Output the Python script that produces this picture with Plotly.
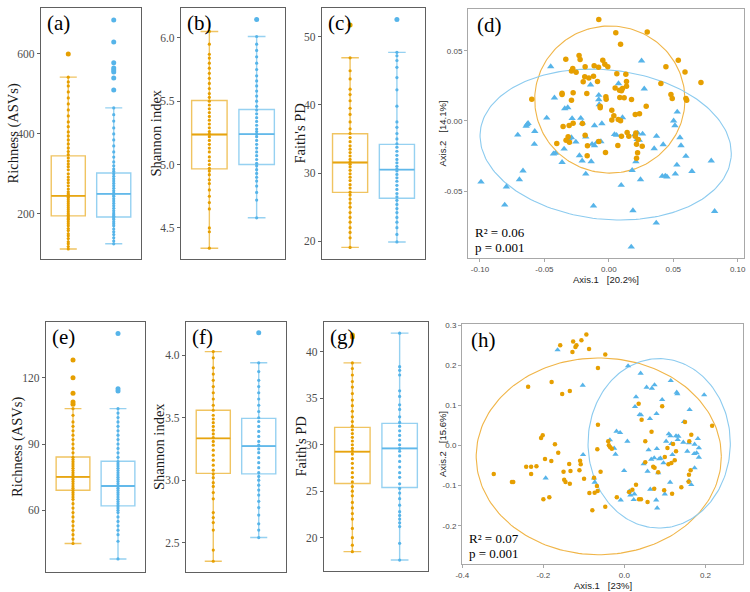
import numpy as np
import plotly.graph_objects as go

ORANGE = "#E69F00"
BLUE = "#56B4E9"
OR_LINE = "rgba(230,159,0,0.62)"
BL_LINE = "rgba(86,180,233,0.62)"

# ---------------- box-plot data (raw points + summary stats) -------------
a_or = [112,118,125,130,138,145,150,158,163,170,175,180,185,188,192,196,200,205,210,215,220,225,230,235,240,243,247,250,255,262,270,278,285,292,300,310,318,325,332,340,348,356,365,375,385,395,405,418,430,445,460,475,490,505,520,530,542]
a_or_out = [600]
a_bl = [125,132,140,148,155,162,170,175,180,186,190,194,198,202,208,214,220,226,232,238,244,248,252,258,264,270,276,282,288,294,300,306,312,320,330,342,355,370,385,400,415,432,448,465]
a_bl_out = [510,540,555,560,565,578,630,685]
a_or_stats = [112, 195, 245, 345, 542]
a_bl_stats = [125, 192, 250, 302, 465]
a_ticks = [200, 400, 600]
a_ticklabels = ["200", "400", "600"]

b_or = [4.34,4.47,4.50,4.65,4.70,4.75,4.80,4.85,4.88,4.92,4.95,4.97,5.00,5.03,5.06,5.10,5.13,5.16,5.19,5.22,5.24,5.26,5.29,5.32,5.35,5.38,5.41,5.44,5.47,5.50,5.53,5.56,5.60,5.64,5.68,5.72,5.76,5.80,5.84,5.87,5.95,6.05]
b_or_out = []
b_bl = [4.58,4.72,4.78,4.83,4.87,4.90,4.93,4.96,4.99,5.01,5.04,5.07,5.10,5.13,5.16,5.19,5.22,5.24,5.26,5.28,5.31,5.34,5.37,5.40,5.43,5.46,5.50,5.54,5.58,5.62,5.66,5.70,5.75,5.80,5.85,5.90,5.95,6.01]
b_bl_out = [6.145]
b_or_stats = [4.34, 4.966, 5.237, 5.505, 6.05]
b_bl_stats = [4.58, 5.0, 5.24, 5.434, 6.01]
b_ticks = [4.5, 5.0, 5.5, 6.0]
b_ticklabels = ["4.5", "5.0", "5.5", "6.0"]

c_or = [19.1,20.5,21.3,22.0,22.8,23.5,24.2,25.0,25.6,26.2,26.8,27.2,27.8,28.3,28.9,29.4,29.9,30.4,30.9,31.3,31.6,32.0,32.5,33.0,33.5,34.0,34.6,35.2,35.8,36.5,37.5,38.6,39.5,40.6,41.5,42.3,43.8,45.0,46.9]
c_or_out = [51.7]
c_bl = [19.9,21.0,22.0,22.8,23.5,24.2,24.8,25.4,26.0,26.5,27.0,27.6,28.2,28.8,29.3,29.8,30.3,30.6,31.0,31.5,32.0,32.6,33.2,33.8,34.3,35.0,35.8,36.7,37.5,39.8,42.2,44.0,45.5,46.5,47.2,47.7]
c_bl_out = [52.5]
c_or_stats = [19.1, 27.17, 31.55, 35.77, 46.9]
c_bl_stats = [19.9, 26.3, 30.5, 34.2, 47.7]
c_ticks = [20, 30, 40, 50]
c_ticklabels = ["20", "30", "40", "50"]

e_or = [45,47,49,51,53,55,57,59,61,63,65,66,67,68,69,70,71,72,73,74,75,76,77,78,79,80,81,82,83,84,86,88,90,92,94,96,98,100,103,106]
e_or_out = [108,109,113,120,128]
e_bl = [38,46,49,51,53,55,57,59,60,61,62,63,64,65,66,67,68,69,70,71,72,73,74,75,76,77,78,79,80,81,82,84,86,88,90,92,94,96,98,100,102,104,106]
e_bl_out = [114,115,140]
e_or_stats = [45, 69.05, 75.1, 84.1, 106]
e_bl_stats = [38, 62, 71, 82.2, 106]
e_ticks = [60, 90, 120]
e_ticklabels = ["60", "90", "120"]

f_or = [2.35,2.44,2.60,2.66,2.70,2.74,2.85,2.90,2.95,2.98,3.02,3.05,3.08,3.12,3.16,3.20,3.24,3.28,3.31,3.34,3.37,3.40,3.43,3.46,3.49,3.52,3.56,3.60,3.65,3.70,3.75,3.80,3.85,3.90,3.98,4.03]
f_or_out = []
f_bl = [2.54,2.60,2.65,2.72,2.78,2.83,2.88,2.92,2.96,3.00,3.03,3.06,3.10,3.14,3.18,3.22,3.25,3.28,3.31,3.35,3.39,3.43,3.47,3.50,3.55,3.60,3.65,3.70,3.75,3.80,3.87,3.94]
f_bl_out = [4.18]
f_or_stats = [2.35, 3.054, 3.335, 3.56, 4.03]
f_bl_stats = [2.54, 3.05, 3.273, 3.495, 3.94]
f_ticks = [2.5, 3.0, 3.5, 4.0]
f_ticklabels = ["2.5", "3.0", "3.5", "4.0"]

g_or = [18.5,19.2,20.0,21.0,22.0,22.6,23.2,23.8,24.5,25.0,25.5,26.0,26.5,27.0,27.5,28.0,28.5,29.0,29.3,29.6,30.0,30.4,30.8,31.2,31.6,32.0,32.5,33.0,33.6,34.2,34.8,35.5,36.2,36.8,37.5,38.2,38.8]
g_or_out = [41.6, 41.8]
g_bl = [17.6,19.4,21.2,21.6,22.0,22.4,22.8,23.5,24.2,24.8,25.3,25.8,26.5,27.0,27.6,28.2,28.8,29.3,29.6,30.0,30.5,31.0,31.5,32.0,32.4,33.0,33.8,34.3,35.2,35.8,37.5,38.0,38.4,42.0]
g_bl_out = []
g_or_stats = [18.5, 25.83, 29.25, 31.87, 38.8]
g_bl_stats = [17.6, 25.4, 29.6, 32.3, 42.0]
g_ticks = [20, 25, 30, 35, 40]
g_ticklabels = ["20", "25", "30", "35", "40"]

# ---------------- PCoA data (d) ----------------
d_or_x = [-0.0078,0.0054,0.0298,0.0091,0.0539,0.0443,0.0591,0.0715,0.0404,0.0482,0.0492,0.0598,0.0604,0.0290,-0.0231,-0.0223,-0.0334,-0.0280,-0.0290,-0.0184,-0.0114,-0.0080,-0.0047,-0.0031,-0.0008,-0.0254,-0.0187,-0.0155,-0.0199,-0.0088,-0.0119,0.0062,0.0049,0.0083,0.0106,0.0098,0.0137,0.0137,0.0132,0.0085,0.0119,0.0176,-0.0598,-0.0363,-0.0363,-0.0277,-0.0290,-0.0171,-0.0023,-0.0067,-0.0067,0.0023,0.0039,0.0023,0.0073,0.0091,0.0205,0.0238,-0.0355,-0.0308,-0.0277,-0.0205,-0.0316,-0.0306,-0.0184,-0.0166,-0.0404,-0.0332,-0.0168,-0.0026,-0.0078,0.0070,0.0098,0.0142,0.0155,0.0205,0.0210,0.0215,0.0228,0.0259,0.0223,0.0215,-0.0021]
d_or_y = [0.0722,0.0627,0.0634,0.0546,0.0432,0.0385,0.0349,0.0273,0.0266,0.0188,0.0159,0.0159,0.0147,0.0105,0.0466,0.0437,0.0439,0.0373,0.0356,0.0385,0.0392,0.0382,0.0432,0.0404,0.0385,0.0347,0.0314,0.0306,0.0278,0.0280,0.0318,0.0335,0.0235,0.0219,0.0230,0.0214,0.0247,0.0280,0.0333,0.0166,0.0164,0.0152,0.0154,0.0197,0.0188,0.0200,0.0147,0.0195,0.0171,0.0105,0.0093,0.0076,0.0036,0.0007,0.0010,0.0000,0.0045,0.0050,-0.0040,-0.0033,-0.0017,-0.0019,-0.0114,-0.0152,-0.0102,-0.0178,-0.0162,-0.0138,-0.0249,-0.0226,-0.0147,-0.0176,-0.0109,-0.0083,-0.0109,-0.0109,-0.0086,-0.0166,-0.0133,-0.0181,-0.0228,-0.0266,0.0154]
d_bl_x = [-0.0451,0.0254,-0.0422,-0.0342,-0.0319,-0.0142,0.0075,0.0275,-0.0078,-0.0078,-0.0075,0.0106,-0.0482,-0.0635,-0.0627,-0.0642,-0.0575,-0.0707,-0.0578,-0.0285,-0.0218,-0.0205,-0.0111,-0.0054,0.0044,0.0060,0.0223,0.0262,0.0220,0.0236,0.0370,0.0422,0.0352,0.0503,0.0513,0.0531,0.0552,0.0560,0.0598,0.0528,0.0516,0.0645,0.0795,0.0438,0.0415,0.0451,0.0210,0.0181,0.0096,0.0246,-0.0111,-0.0091,-0.0062,-0.0130,-0.0179,-0.0308,-0.0347,-0.0228,-0.0207,-0.0137,-0.0179,-0.0363,-0.0415,-0.0430,-0.0666,-0.0694,-0.0795,-0.0992,-0.0808,-0.0119,0.0187,0.0368,0.0174,0.0821,-0.0256,0.0202,-0.0290]
d_bl_y = [0.0387,0.0428,0.0164,0.0088,0.0095,0.0257,0.0266,0.0228,0.0183,0.0152,0.0116,0.0024,0.0021,-0.0026,-0.0017,-0.0038,-0.0074,-0.0100,-0.0166,0.0017,0.0019,-0.0014,-0.0033,-0.0019,-0.0097,-0.0102,-0.0086,-0.0093,-0.0131,-0.0138,-0.0109,-0.0169,-0.0197,0.0000,-0.0033,0.0064,-0.0119,-0.0176,-0.0252,-0.0314,-0.0378,-0.0359,-0.0285,-0.0392,-0.0394,-0.0399,-0.0290,-0.0352,-0.0458,-0.0418,-0.0176,-0.0152,-0.0147,-0.0166,-0.0114,-0.0126,-0.0200,-0.0247,-0.0285,-0.0290,-0.0378,-0.0295,-0.0230,-0.0235,-0.0356,-0.0418,-0.0470,-0.0435,-0.0599,-0.0606,-0.0639,-0.0727,-0.0898,-0.0644,-0.0150,-0.0097,-0.0119]
d_xticks = [-0.10, -0.05, 0.0, 0.05, 0.10]
d_xticklabels = ["-0.10", "-0.05", "0.00", "0.05", "0.10"]
d_yticks = [-0.05, 0.0, 0.05]
d_yticklabels = ["-0.05", "0.00", "0.05"]

# ---------------- PCoA data (h) ----------------
h_or_x = [-0.0939,-0.1061,-0.1265,-0.1184,-0.1208,-0.1584,-0.1282,-0.0873,-0.0473,-0.0653,-0.1796,-0.2376,-0.1535,-0.1347,-0.0653,-0.2016,-0.2057,-0.1714,-0.1633,-0.1804,-0.1959,-0.2171,-0.2424,-0.2302,-0.2302,-0.3224,-0.2776,-0.2743,-0.1502,-0.1363,-0.1331,-0.1486,-0.1453,-0.1094,-0.1078,-0.1110,-0.0996,-0.0751,-0.0678,-0.0661,-0.0735,-0.0865,-0.0792,-0.0473,-0.0188,-0.0588,-0.0669,-0.0400,-0.0384,-0.0351,-0.0310,0.0114,0.0196,0.0286,0.0359,0.0571,0.0735,0.0514,0.0710,0.0743,0.0833,0.0669,0.0514,0.0351,0.0424,0.0931,0.1061,0.0996,0.1200,0.1241,0.1494,0.1600,0.1649,0.1633,0.1592,0.1584,0.1404,0.1086,0.1159,0.0980,0.0408,-0.2000,-0.1853,-0.1347,0.2163,0.1176,0.1273]
h_or_y = [0.2775,0.2633,0.2600,0.2508,0.2467,0.2508,0.2342,0.2417,0.2275,0.1942,0.1592,0.1475,0.1292,0.1367,0.0525,0.0258,0.0192,0.0033,-0.0175,-0.0383,-0.0333,-0.0517,-0.0525,-0.0525,-0.0708,-0.0708,-0.0908,-0.0908,-0.0650,-0.0458,-0.0633,-0.0850,-0.0908,-0.0375,-0.0467,-0.0617,-0.0825,-0.0800,-0.1008,-0.1133,-0.1175,-0.1183,-0.1617,-0.1525,-0.1292,-0.0650,-0.0092,0.0108,0.0008,-0.0042,-0.0075,-0.1158,-0.1100,-0.0975,-0.1342,-0.1408,-0.1075,-0.0417,-0.0525,-0.0550,-0.0667,0.0350,0.0108,0.1050,0.0650,0.0983,-0.0058,-0.0283,0.0042,-0.0367,0.0592,0.0108,0.0275,-0.0617,-0.0725,-0.0900,-0.1042,-0.0467,-0.0433,-0.1117,-0.1342,-0.1342,-0.1292,-0.0950,0.0500,-0.1200,-0.0142]
h_bl_x = [-0.1649,-0.1029,0.0090,0.0400,0.0547,0.0678,0.0743,0.0931,0.1290,0.1306,0.1143,0.1608,0.1967,0.1469,0.0286,0.0261,0.0376,0.0408,0.0792,0.0629,-0.0196,-0.0106,0.0073,-0.0359,-0.0253,-0.0220,-0.0008,0.0122,0.0245,0.0147,0.0229,-0.0090,0.0784,0.0808,0.0637,0.0473,0.0596,0.0661,0.0857,0.0890,0.0963,0.1029,0.1094,0.1159,0.1135,0.1273,0.1331,0.1314,0.1453,0.1592,0.1731,0.1837,0.1812,0.1551,0.1722,0.1780,0.1837,0.1731,0.1592,0.1649,0.1127,0.0996,-0.1943,-0.1020,-0.0735,-0.0751,0.0571,0.1184,0.0833,0.0735,0.0800]
h_bl_y = [0.2392,0.1508,0.1992,0.1808,0.1458,0.1433,0.1517,0.1150,0.1333,0.1292,0.1625,0.0900,0.1267,0.0600,0.1217,0.0975,0.0775,0.0767,0.0800,0.0675,0.0358,0.0325,0.0108,0.0142,-0.0067,-0.0217,-0.0625,-0.1142,-0.1208,-0.1233,-0.1350,-0.1358,-0.1358,-0.1558,-0.1092,-0.0458,-0.0108,-0.0342,-0.0333,-0.0317,-0.0433,0.0108,0.0292,0.0050,0.0242,0.0242,0.0233,0.0150,0.0083,0.0067,0.0033,-0.0058,0.0175,-0.0142,-0.0200,-0.0183,-0.0292,-0.0558,-0.0875,-0.0975,-0.0917,-0.1208,-0.0808,-0.0225,-0.0917,-0.0808,-0.0642,-0.0225,-0.0683,-0.0308,-0.0075]
h_xticks = [-0.4, -0.2, 0.0, 0.2]
h_xticklabels = ["-0.4", "-0.2", "0.0", "0.2"]
h_yticks = [-0.2, -0.1, 0.0, 0.1, 0.2, 0.3]
h_yticklabels = ["-0.2", "-0.1", "0.0", "0.1", "0.2", "0.3"]

# 95% ellipse parameters: centre x, centre y, axis-1 vector (x,y), axis-2 vector (x,y)
d_or_ell = [0.00078, 0.0152, 0.0583, 0.0, 0.0, 0.0524]
d_bl_ell = [-0.00246, -0.01686, 0.0973, -0.00953, -0.00617, -0.0529]
h_or_ell = [-0.0633, -0.0267, 0.3024, 0.0, 0.0, 0.2458]
h_bl_ell = [0.0857, 0.0058, 0.1755, 0.0, 0.0, 0.2117]

W, H = 750, 592
BOX_W = 0.75
def dom_x(x0, x1):
    return [x0 / W, x1 / W]
def dom_y(y0, y1):
    return [1 - y1 / H, 1 - y0 / H]

fig = go.Figure()
layout = dict(width=W, height=H, margin=dict(l=0, r=0, t=0, b=0, autoexpand=False),
              paper_bgcolor="white", plot_bgcolor="white", showlegend=False,
              boxmode="overlay", template="none")
annotations = []

SERIF = "Liberation Serif"
SANS = "Liberation Sans"
TICKCOL = "#4D4D4D"
FRAME = "#606060"

box_panels = [
    ("a", (41, 141), (8, 259), [87, 715], "Richness (ASVs)", a_or, a_or_out, a_bl, a_bl_out, a_or_stats, a_bl_stats, 13, a_ticks, a_ticklabels),
    ("b", (181, 285), (8, 259), [4.255, 6.235], "Shannon index", b_or, b_or_out, b_bl, b_bl_out, b_or_stats, b_bl_stats, 155, b_ticks, b_ticklabels),
    ("c", (322, 425), (8, 259), [17.4, 54.2], "Faith's PD", c_or, c_or_out, c_bl, c_bl_out, c_or_stats, c_bl_stats, 299, c_ticks, c_ticklabels),
    ("e", (46, 145), (322, 572), [32.1, 145.2], "Richness (ASVs)", e_or, e_or_out, e_bl, e_bl_out, e_or_stats, e_bl_stats, 17, e_ticks, e_ticklabels),
    ("f", (186, 286), (322, 572), [2.264, 4.267], "Shannon index", f_or, f_or_out, f_bl, f_bl_out, f_or_stats, f_bl_stats, 159, f_ticks, f_ticklabels),
    ("g", (324, 428), (322, 571), [16.42, 43.2], "Faith's PD", g_or, g_or_out, g_bl, g_bl_out, g_or_stats, g_bl_stats, 300, g_ticks, g_ticklabels),
]

idx = 0
for (key, xd, yd, yr, ytitle, por, poro, pbl, pblo, sor, sbl, titx, tv, tt) in box_panels:
    idx += 1
    xa = "x" if idx == 1 else f"x{idx}"
    ya = "y" if idx == 1 else f"y{idx}"
    xname = "xaxis" if idx == 1 else f"xaxis{idx}"
    yname = "yaxis" if idx == 1 else f"yaxis{idx}"
    for pos, st, lcol, col in [(1, sor, OR_LINE, ORANGE), (2, sbl, BL_LINE, BLUE)]:
        fig.add_trace(go.Box(x=[pos], lowerfence=[st[0]], q1=[st[1]], median=[st[2]],
                             q3=[st[3]], upperfence=[st[4]], width=BOX_W,
                             boxpoints=False, fillcolor="rgba(0,0,0,0)",
                             line=dict(color=lcol, width=1.4), xaxis=xa, yaxis=ya,
                             hoverinfo="skip"))
        # median drawn a little stronger, as in the reference
        fig.add_trace(go.Scatter(x=[pos - BOX_W / 2, pos + BOX_W / 2], y=[st[2], st[2]],
                                 mode="lines", line=dict(color=col, width=1.8),
                                 xaxis=xa, yaxis=ya, hoverinfo="skip", opacity=0.85))
    for pos, pts, outs, col in [(1, por, poro, ORANGE), (2, pbl, pblo, BLUE)]:
        fig.add_trace(go.Scatter(x=[pos] * len(pts), y=pts, mode="markers",
                                 marker=dict(color=col, size=3.2, line=dict(width=0)),
                                 xaxis=xa, yaxis=ya))
        if outs:
            fig.add_trace(go.Scatter(x=[pos] * len(outs), y=outs, mode="markers",
                                     marker=dict(color=col, size=5, line=dict(width=0)),
                                     xaxis=xa, yaxis=ya))
    layout[xname] = dict(domain=dom_x(*xd), range=[0.4, 2.6], showticklabels=False,
                         ticks="", showgrid=False, zeroline=False, showline=True,
                         mirror=True, linecolor=FRAME, linewidth=1.4, anchor=ya,
                         automargin=False)
    layout[yname] = dict(domain=dom_y(*yd), range=yr, showgrid=False, zeroline=False,
                         showline=True, mirror=True, linecolor=FRAME, linewidth=1.4,
                         ticks="outside", ticklen=3, tickcolor=FRAME,
                         tickvals=tv, ticktext=tt,
                         tickfont=dict(family=SERIF, size=11.5, color=TICKCOL),
                         anchor=xa, automargin=False)
    annotations.append(dict(text=ytitle, x=titx / W, y=1 - (yd[0] + yd[1]) / 2 / H,
                            xref="paper", yref="paper", showarrow=False, textangle=-90,
                            font=dict(family=SERIF, size=14.5, color="#1a1a1a"),
                            xanchor="center", yanchor="middle"))
    annotations.append(dict(text=f"({key})", x=(xd[0] + 4) / W, y=1 - (yd[0] + 15) / H,
                            xref="paper", yref="paper", showarrow=False,
                            font=dict(family=SERIF, size=21, color="black"),
                            xanchor="left", yanchor="middle"))

def ellipse(p):
    t = np.linspace(0, 2 * np.pi, 200)
    ex = p[0] + p[2] * np.cos(t) + p[4] * np.sin(t)
    ey = p[1] + p[3] * np.cos(t) + p[5] * np.sin(t)
    return ex, ey

pcoa_panels = [
    ("d", (468, 744), (9, 258), [-0.1093, 0.1049], [-0.0977, 0.0797],
     d_xticks, d_xticklabels, d_yticks, d_yticklabels,
     d_or_x, d_or_y, d_bl_x, d_bl_y, d_or_ell, d_bl_ell, "Axis.1   [20.2%]", "Axis.2   [14.1%]",
     "R² = 0.06", 5.5, 279.5, 442),
    ("h", (462, 743), (324, 564), [-0.4007, 0.2925], [-0.2957, 0.304],
     h_xticks, h_xticklabels, h_yticks, h_yticklabels,
     h_or_x, h_or_y, h_bl_x, h_bl_y, h_or_ell, h_bl_ell, "Axis.1   [23%]", "Axis.2   [15.6%]",
     "R² = 0.07", 4.5, 585, 442),
]

for (key, xd, yd, xr, yr, xtv, xtt, ytv, ytt, ox, oy, bx, by, oell, bell, xt, yt, r2, msz, xty, ytx) in pcoa_panels:
    idx += 1
    xa, ya = f"x{idx}", f"y{idx}"
    xname, yname = f"xaxis{idx}", f"yaxis{idx}"
    ex, ey = ellipse(oell)
    fig.add_trace(go.Scatter(x=ex, y=ey, mode="lines", line=dict(color="#F0B548", width=1.1),
                             xaxis=xa, yaxis=ya, hoverinfo="skip"))
    ex, ey = ellipse(bell)
    fig.add_trace(go.Scatter(x=ex, y=ey, mode="lines", line=dict(color="#8CCBEF", width=1.1),
                             xaxis=xa, yaxis=ya, hoverinfo="skip"))
    fig.add_trace(go.Scatter(x=bx, y=by, mode="markers",
                             marker=dict(color=BLUE, size=msz + 1, symbol="triangle-up",
                                         line=dict(width=0)),
                             xaxis=xa, yaxis=ya))
    fig.add_trace(go.Scatter(x=ox, y=oy, mode="markers",
                             marker=dict(color=ORANGE, size=msz, line=dict(width=0)),
                             xaxis=xa, yaxis=ya))
    layout[xname] = dict(domain=dom_x(*xd), range=xr, showgrid=False, zeroline=False,
                         showline=True, mirror=True, linecolor="#A8A8A8", linewidth=1,
                         ticks="outside", ticklen=3, tickcolor="#A8A8A8",
                         tickvals=xtv, ticktext=xtt,
                         tickfont=dict(family=SANS, size=8, color=TICKCOL), anchor=ya,
                         automargin=False)
    layout[yname] = dict(domain=dom_y(*yd), range=yr, showgrid=False, zeroline=False,
                         showline=True, mirror=True, linecolor="#A8A8A8", linewidth=1,
                         ticks="outside", ticklen=3, tickcolor="#A8A8A8",
                         tickvals=ytv, ticktext=ytt,
                         tickfont=dict(family=SANS, size=8, color=TICKCOL), anchor=xa,
                         automargin=False)
    annotations.append(dict(text=xt, x=(xd[0] + xd[1]) / 2 / W, y=1 - xty / H,
                            xref="paper", yref="paper", showarrow=False,
                            font=dict(family=SANS, size=9.5, color="#1a1a1a"),
                            xanchor="center", yanchor="middle"))
    annotations.append(dict(text=yt, x=ytx / W, y=1 - (yd[0] + yd[1]) / 2 / H,
                            xref="paper", yref="paper", showarrow=False, textangle=-90,
                            font=dict(family=SANS, size=9.5, color="#1a1a1a"),
                            xanchor="center", yanchor="middle"))
    annotations.append(dict(text=f"({key})", x=(xd[0] + 7) / W, y=1 - (yd[0] + 16) / H,
                            xref="paper", yref="paper", showarrow=False,
                            font=dict(family=SERIF, size=21, color="black"),
                            xanchor="left", yanchor="middle"))
    annotations.append(dict(text=r2, x=(xd[0] + 5) / W, y=1 - (yd[1] - 26) / H,
                            xref="paper", yref="paper", showarrow=False,
                            font=dict(family=SERIF, size=13, color="black"),
                            xanchor="left", yanchor="middle"))
    annotations.append(dict(text="p = 0.001", x=(xd[0] + 5) / W, y=1 - (yd[1] - 11) / H,
                            xref="paper", yref="paper", showarrow=False,
                            font=dict(family=SERIF, size=13, color="black"),
                            xanchor="left", yanchor="middle"))

layout["annotations"] = annotations
fig.update_layout(**layout)
fig.write_html("out.html", config={"displayModeBar": False},
               post_script="document.body.style.margin='0px';document.body.style.overflow='hidden';")
